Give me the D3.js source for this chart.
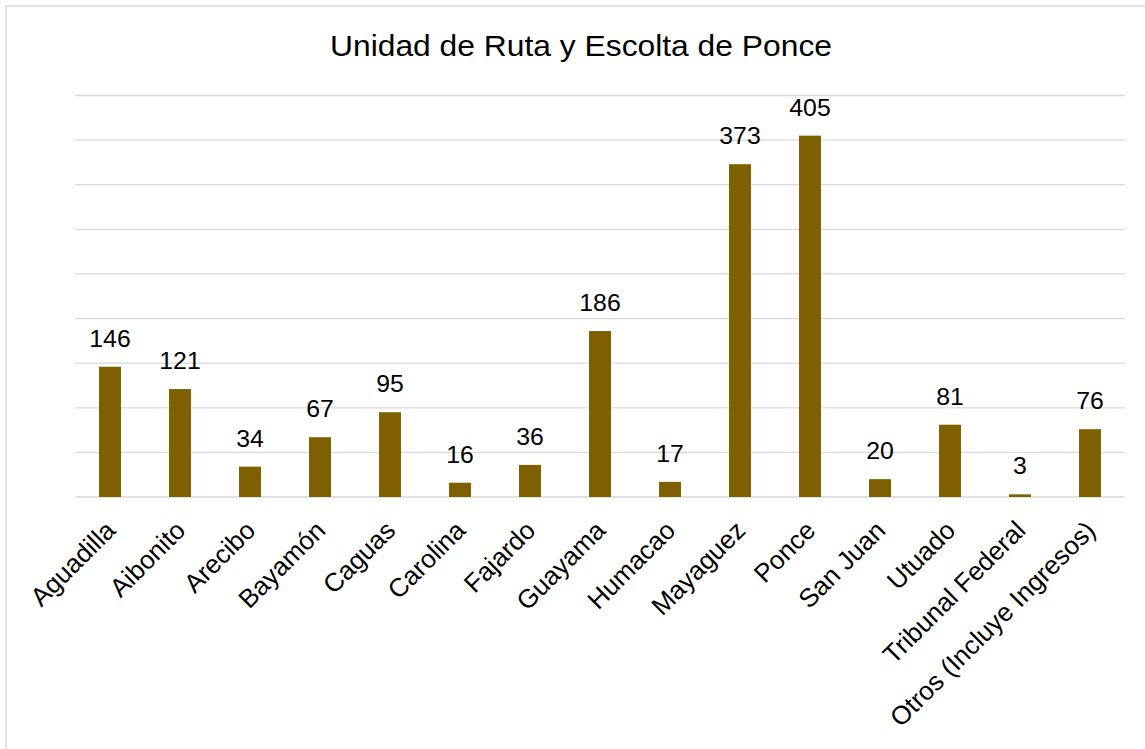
<!DOCTYPE html>
<html>
<head>
<meta charset="utf-8">
<script src="https://cdn.jsdelivr.net/npm/d3@7"></script>
<style>
  html, body { margin: 0; padding: 0; background: #fff; }
  svg { display: block; font-family: "Liberation Sans", Arial, Helvetica, sans-serif; }
</style>
</head>
<body>
<svg id="chart" width="1145" height="749"></svg>
<script>
const title = "Unidad de Ruta y Escolta de Ponce";
const categories = ["Aguadilla", "Aibonito", "Arecibo", "Bayamón", "Caguas", "Carolina", "Fajardo", "Guayama", "Humacao", "Mayaguez", "Ponce", "San Juan", "Utuado", "Tribunal Federal", "Otros (Incluye Ingresos)"];
const values = [146, 121, 34, 67, 95, 16, 36, 186, 17, 373, 405, 20, 81, 3, 76];
const gridTicks = [0, 50, 100, 150, 200, 250, 300, 350, 400, 450];

const svg = d3.select("#chart");
const plot = { left: 75, right: 1125, top: 95.5, bottom: 497 };

// chart border (top and left visible)
svg.append("rect")
  .attr("x", 6).attr("y", 6).attr("width", 1300).attr("height", 900)
  .attr("fill", "none").attr("stroke", "#d9d9d9").attr("stroke-width", 1.5);

const x = d3.scaleBand()
  .domain(categories)
  .range([plot.left, plot.right])
  .paddingInner(0.686)
  .paddingOuter(0.343);

const y = d3.scaleLinear().domain([0, 450]).range([plot.bottom, plot.top]);

// gridlines
svg.append("g")
  .selectAll("line")
  .data(gridTicks)
  .join("line")
  .attr("x1", plot.left).attr("x2", plot.right)
  .attr("y1", d => y(d)).attr("y2", d => y(d))
  .attr("stroke", "#d9d9d9").attr("stroke-width", 1.3);

// bars
svg.append("g")
  .selectAll("rect")
  .data(values)
  .join("rect")
  .attr("x", (d, i) => x(categories[i]))
  .attr("width", x.bandwidth())
  .attr("y", d => y(d))
  .attr("height", d => y(0) - y(d))
  .attr("fill", "#7f6000");

// value labels
svg.append("g")
  .selectAll("text")
  .data(values)
  .join("text")
  .attr("transform", (d, i) => `translate(${x(categories[i]) + x.bandwidth() / 2},${y(d) - 20}) scale(1.08,1)`)
  .attr("text-anchor", "middle")
  .attr("font-size", 23)
  .attr("fill", "#000")
  .text(d => d);

// category labels
svg.append("g")
  .selectAll("text")
  .data(categories)
  .join("text")
  .attr("transform", d => `translate(${x(d) + x.bandwidth() / 2 + 7},${plot.bottom + 35}) rotate(-45)`)
  .attr("text-anchor", "end")
  .attr("font-size", 26)
  .attr("fill", "#000")
  .text(d => d);

// title
svg.append("text")
  .attr("transform", `translate(581,56) scale(1.06,1)`)
  .attr("text-anchor", "middle")
  .attr("font-size", 30)
  .attr("fill", "#000")
  .text(title);
</script>
</body>
</html>
